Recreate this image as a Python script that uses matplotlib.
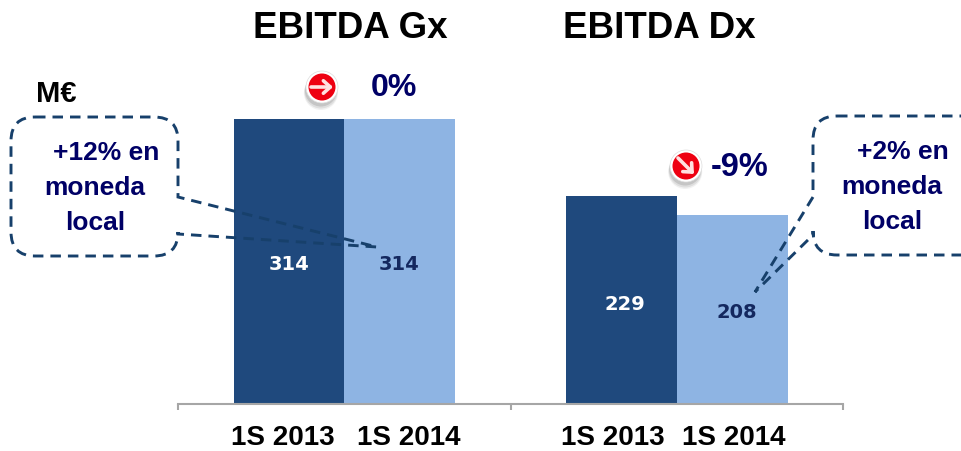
import matplotlib
matplotlib.use('Agg')
import matplotlib.pyplot as plt
from matplotlib.patches import Circle, PathPatch
from matplotlib.path import Path

plt.rcParams['font.family'] = ['Liberation Sans', 'DejaVu Sans']
plt.rcParams['font.weight'] = 'bold'

groups = ['EBITDA Gx', 'EBITDA Dx']
periods = ['1S 2013', '1S 2014']
gx_values = [314, 314]
dx_values = [229, 208]
changes = ['0%', '-9%']
notes = [['+12% en', 'moneda', 'local'], ['+2% en', 'moneda', 'local']]

W, H = 961, 451
DARK = '#1f497d'
LIGHT = '#8eb4e3'
NAVY = '#000066'
DASH = '#17406b'

fig = plt.figure(figsize=(W / 100, H / 100), dpi=100)

# bar axes, 178..843 px wide, baseline at 404 px
ax = fig.add_axes([178.3 / W, (H - 404) / H, 664.7 / W, 304 / H])
ax.bar([1, 2], gx_values, width=1, color=[DARK, LIGHT])
ax.bar([4, 5], dx_values, width=1, color=[DARK, LIGHT])
ax.set_xlim(0, 6)
ax.set_ylim(0, 304 / 0.908)
ax.set_xticks([0, 3, 6])
ax.set_xticklabels([])
ax.set_yticks([])
for s in ['top', 'left', 'right']:
    ax.spines[s].set_visible(False)
ax.spines['bottom'].set_color('#a6a6a6')
ax.spines['bottom'].set_linewidth(1.5)
ax.tick_params(axis='x', length=4.5, width=1.5, color='#a6a6a6')
ax.patch.set_alpha(0)

# overlay in image pixels for the slide annotations
ov = fig.add_axes([0, 0, 1, 1], zorder=5)
ov.set_xlim(0, W)
ov.set_ylim(H, 0)
ov.axis('off')


def callout(x0, x1, y0, y1, r, side, tip, a, b):
    M, L, C = Path.MOVETO, Path.LINETO, Path.CURVE3
    if side == 'right':
        pts = [(x0 + r, y0), (x1 - r, y0), (x1, y0), (x1, y0 + r), (x1, a), tip, (x1, b),
               (x1, y1 - r), (x1, y1), (x1 - r, y1), (x0 + r, y1), (x0, y1), (x0, y1 - r),
               (x0, y0 + r), (x0, y0), (x0 + r, y0)]
        codes = [M, L, C, C, L, L, L, L, C, C, L, C, C, L, C, C]
    else:
        pts = [(x0 + r, y0), (x1 - r, y0), (x1, y0), (x1, y0 + r), (x1, y1 - r), (x1, y1),
               (x1 - r, y1), (x0 + r, y1), (x0, y1), (x0, y1 - r), (x0, b), tip, (x0, a),
               (x0, y0 + r), (x0, y0), (x0 + r, y0)]
        codes = [M, L, C, C, L, C, C, L, C, C, L, L, L, L, C, C]
    ov.add_patch(PathPatch(Path(pts, codes), fill=False, ec=DASH, lw=2.1,
                           ls=(0, (3.6, 2.4)), clip_on=False))


callout(11, 178, 117, 256, 24, 'right', (377, 247), 197, 234)
callout(813, 990, 116, 255, 24, 'left', (755, 292), 197, 235)


def icon(cx, cy, dx, dy):
    for off, rad, al in [(6, 17, 0.08), (5, 16.5, 0.12), (3.5, 16, 0.18)]:
        ov.add_patch(Circle((cx - dx * 0.1, cy + off), rad, fc='#555555', ec='none', alpha=al))
    ov.add_patch(Circle((cx, cy), 16, fc='white', ec='#dddddd', lw=0.5))
    ov.add_patch(Circle((cx, cy), 13.5, fc='#ee0011', ec='none'))
    ov.annotate('', xy=(cx + dx, cy + dy), xytext=(cx - dx, cy - dy),
                arrowprops=dict(arrowstyle='->,head_length=0.5,head_width=0.45',
                                color='#ffe0e0', lw=2.6, shrinkA=0, shrinkB=0))


icon(322, 87, 11, 0)
icon(686, 166, 8, 8)

for name, x in zip(groups, [350, 659.5]):
    ov.text(x, 28.5, name, fontsize=26.5, color='black', ha='center', va='center')

ov.text(36, 94.5, 'M€', fontsize=21, color='black', ha='left', va='center')
ov.text(393.5, 88.5, changes[0], fontsize=23, color=NAVY, ha='center', va='center')
ov.text(739.5, 167.5, changes[1], fontsize=23.5, color=NAVY, ha='center', va='center')

for lines, xs, ys in [(notes[0], [106, 95, 95], [153, 188, 223]),
                      (notes[1], [903, 892, 892], [152, 187, 222])]:
    for line, x, y in zip(lines, xs, ys):
        ov.text(x, y, line, fontsize=19, color=NAVY, ha='center', va='center')

for val, x, y, c in zip(gx_values + dx_values, [289, 399, 625, 737], [265, 265, 304, 313],
                        ['white', '#14285f', 'white', '#14285f']):
    ov.text(x, y, str(val), fontsize=14, color=c, ha='center', va='center',
            family='DejaVu Sans', weight='bold')

for label, x in zip(periods * 2, [283, 409, 613, 734]):
    ov.text(x, 445, label, fontsize=20, color='black', ha='center', va='baseline')

fig.savefig('out.png', dpi=100)
